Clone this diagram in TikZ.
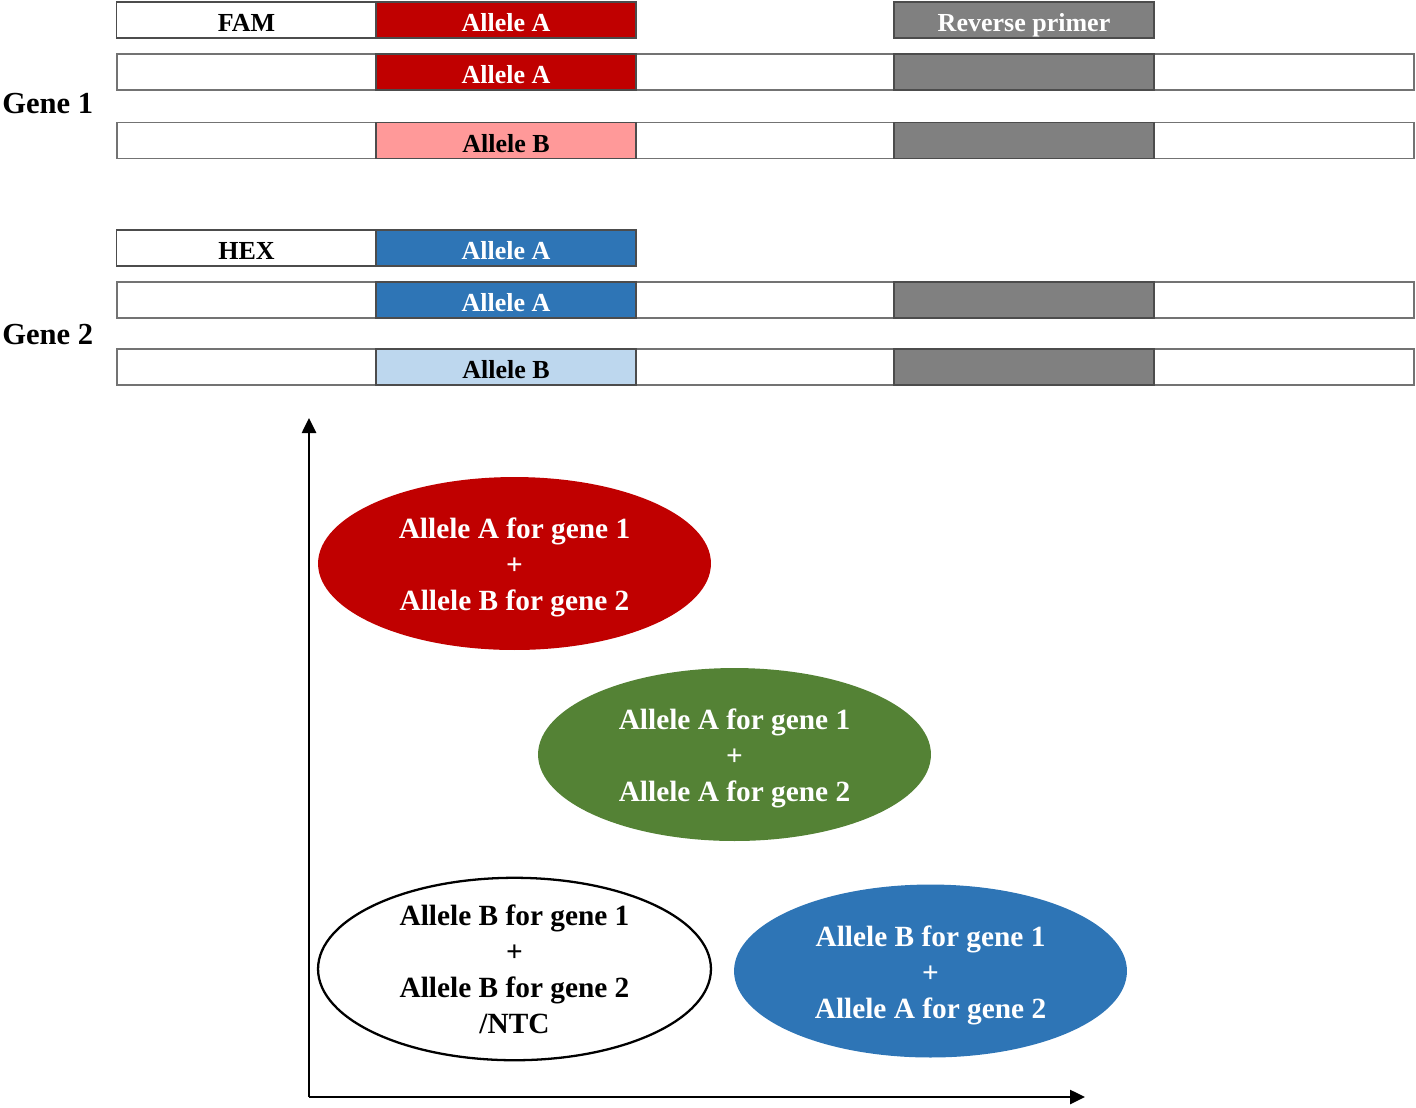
\documentclass[tikz,border=0pt]{standalone}
\usepackage{fontspec}
\setmainfont{Liberation Serif}
\usepackage{tikz}
\usetikzlibrary{positioning,arrows.meta,shapes.geometric}
\definecolor{famred}{HTML}{C00000}
\definecolor{fampink}{HTML}{FF9999}
\definecolor{hexblue}{HTML}{2E75B6}
\definecolor{hexlight}{HTML}{BDD7EE}
\definecolor{primergray}{HTML}{808080}
\definecolor{mixgreen}{HTML}{548235}
\newcommand{\topline}{\rule{0pt}{0.57cm}}
\tikzset{
  axisarrow/.style={-{Triangle[length=3mm, width=2.8mm]}, line width=1.5pt},
  fullbar/.style={draw=black!55, line width=0.9pt, fill=white, minimum width=25.94cm, minimum height=0.72cm, inner sep=0pt, outer sep=0pt},
  segbox/.style={draw=black!70, line width=0.9pt, minimum width=5.2cm, minimum height=0.72cm, inner sep=0pt, outer sep=0pt, text height=0.47cm, text depth=0pt, font=\fontsize{14.8}{17}\selectfont\bfseries},
  labelbox/.style={segbox, fill=white, text=black},
  darkseg/.style={segbox, text=white},
  lightseg/.style={segbox, text=black},
  primerbox/.style={segbox, fill=primergray, text=white},
  genelabel/.style={anchor=west, inner sep=0pt, font=\fontsize{17.4}{20}\selectfont\bfseries},
  cluster/.style={ellipse, minimum width=7.86cm, minimum height=3.46cm, inner sep=0pt, align=center, font=\fontsize{16.7}{20.5}\selectfont\bfseries}
}
\begin{document}
\begin{tikzpicture}[x=0.02cm, y=-0.02cm]
  \useasboundingbox (0,0) rectangle (1416,1107);
  % gene 1 (FAM)
  \node[labelbox] (fam) at (246.5,20) {FAM};
  \node[darkseg, fill=famred] (famA) at (506,20) {Allele A};
  \node[primerbox] (rev) at (1024,20) {Reverse primer};
  \node[fullbar] (g1a) at (765.5,72) {};
  \node[darkseg, fill=famred] (g1aA) at (506,72) {Allele A};
  \node[primerbox] (g1aR) at (1024,72) {};
  \node[fullbar] (g1b) at (765.5,140.5) {};
  \node[lightseg, fill=fampink] (g1bB) at (506,140.5) {Allele B};
  \node[primerbox] (g1bR) at (1024,140.5) {};
  \node[genelabel] (gene1) at (2,104) {Gene 1};
  % gene 2 (HEX)
  \node[labelbox] (hex) at (246.5,248) {HEX};
  \node[darkseg, fill=hexblue] (hexA) at (506,248) {Allele A};
  \node[fullbar] (g2a) at (765.5,300) {};
  \node[darkseg, fill=hexblue] (g2aA) at (506,300) {Allele A};
  \node[primerbox] (g2aR) at (1024,300) {};
  \node[fullbar] (g2b) at (765.5,367) {};
  \node[lightseg, fill=hexlight] (g2bB) at (506,367) {Allele B};
  \node[primerbox] (g2bR) at (1024,367) {};
  \node[genelabel] (gene2) at (2,335) {Gene 2};
  % scatter plot
  \coordinate (origin) at (309,1097);
  \coordinate (yend) at (309,418);
  \coordinate (xend) at (1085,1097);
  \draw[axisarrow] (origin) -- (yend);
  \draw[axisarrow] (origin) -- (xend);
  \node[cluster, fill=famred, text=white] (redc) at (514.5,563.5) {\topline Allele A for gene 1\\+\\Allele B for gene 2};
  \node[cluster, fill=mixgreen, text=white] (greenc) at (734.5,754.5) {\topline Allele A for gene 1\\+\\Allele A for gene 2};
  \node[cluster, draw=black, line width=1.3pt, fill=white, text=black] (ntcc) at (514.5,969) {Allele B for gene 1\\+\\Allele B for gene 2\\/NTC};
  \node[cluster, fill=hexblue, text=white] (bluec) at (930.5,971) {\topline Allele B for gene 1\\+\\Allele A for gene 2};
\end{tikzpicture}
\end{document}
